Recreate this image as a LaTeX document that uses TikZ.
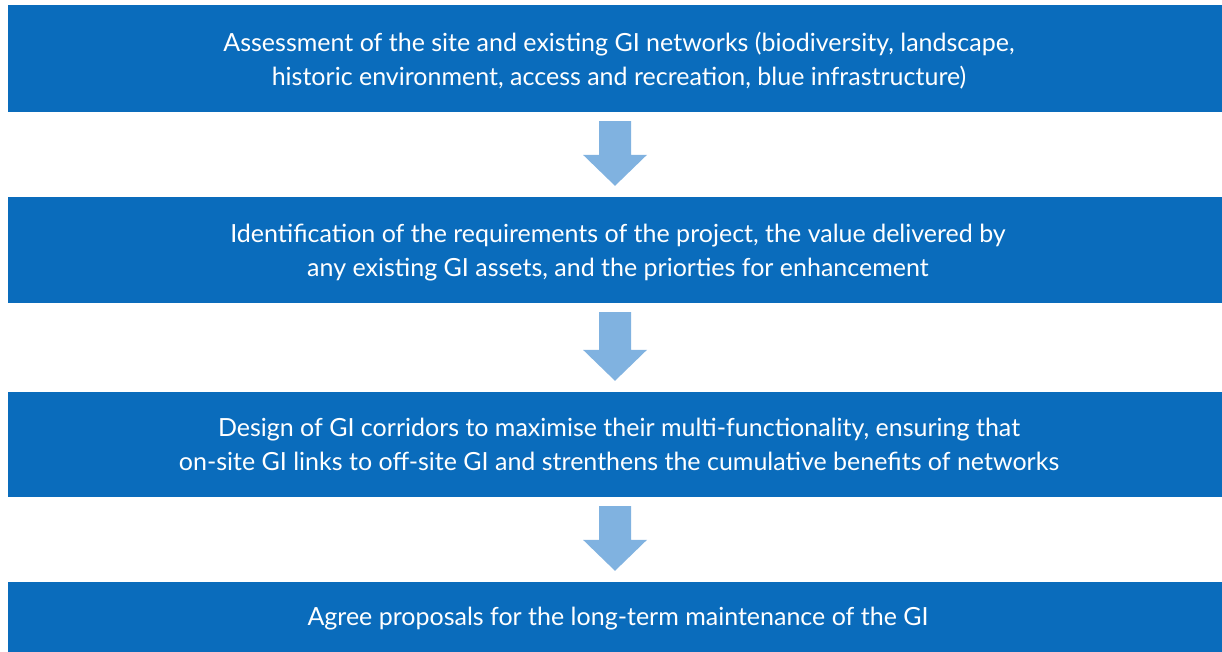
\documentclass[tikz,border=0pt]{standalone}
\usepackage{fontspec}
\setmainfont{Lato}
\usetikzlibrary{calc}
\definecolor{boxblue}{RGB}{10,108,188}
\definecolor{arrowblue}{RGB}{128,178,224}
\tikzset{
  stepbox/.style={fill=boxblue, text=white, minimum width=1214pt, inner sep=0pt, align=center,
    font=\fontsize{25pt}{34pt}\selectfont},
  blockarrow/.style={fill=arrowblue}
}
\begin{document}
\begin{tikzpicture}[x=1pt,y=1pt]
\useasboundingbox (0,0) rectangle (1222,-652);
\fill[white] (0,0) rectangle (1222,-652);
\node[stepbox, minimum height=107pt] (b1) at (615,-58.5) {};
\node[stepbox, minimum height=106pt] (b2) at (615,-250) {};
\node[stepbox, minimum height=105pt] (b3) at (615,-444.5) {};
\node[stepbox, minimum height=70pt] (b4) at (615,-617) {};
\node[stepbox, fill=none, minimum width=0pt] (t1) at ($(b1.center)+(4,-2)$) {Assessment of the site and existing GI networks (biodiversity, landscape,\\historic environment, access and recreation, blue infrastructure)};
\node[stepbox, fill=none, minimum width=0pt] (t2) at ($(b2.center)+(3,-3)$) {Identification of the requirements of the project, the value delivered by\\any existing GI assets, and the priorties for enhancement};
\node[stepbox, fill=none, minimum width=0pt] (t3) at ($(b3.center)+(4,0)$) {Design of GI corridors to maximise their multi-functionality, ensuring that\\on-site GI links to off-site GI and strenthens the cumulative benefits of networks};
\node[stepbox, fill=none, minimum width=0pt] (t4) at ($(b4.center)+(3,-2)$) {Agree proposals for the long-term maintenance of the GI};
\foreach \a/\b in {b1/b2,b2/b3,b3/b4}{
  \fill[blockarrow] ($(\a.south)+(-16,-9)$) -- ($(\a.south)+(16,-9)$)
    -- ($(\b.north)+(16,42)$) -- ($(\b.north)+(32,42)$)
    -- ($(\b.north)+(0,11)$) -- ($(\b.north)+(-32,42)$)
    -- ($(\b.north)+(-16,42)$) -- cycle;
}
\end{tikzpicture}
\end{document}
